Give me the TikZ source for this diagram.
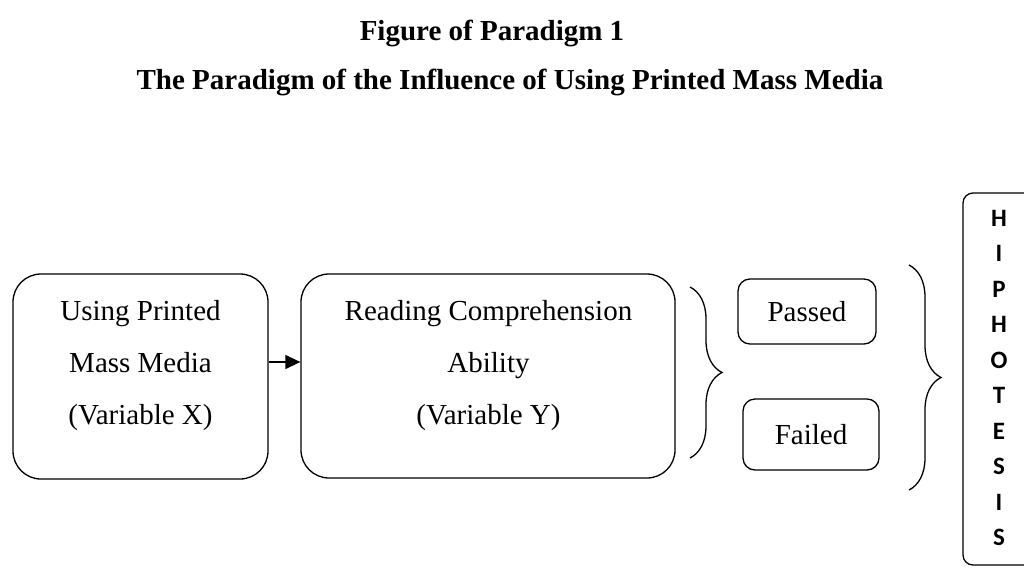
\documentclass[tikz,border=0pt]{standalone}
\usepackage{fontspec}
\setmainfont{Liberation Serif}
\newfontfamily\hypfont{Carlito Bold}
\usetikzlibrary{arrows.meta,decorations.pathreplacing}
\tikzset{
  bigbox/.style={draw, line width=1.3pt, rounded corners=28pt},
  smallbox/.style={draw, line width=1.3pt, rounded corners=12pt, font=\fontsize{29}{34}\selectfont},
  hypbox/.style={draw, line width=1.3pt, rounded corners=10pt},
  boxtext/.style={align=center, font=\fontsize{29}{52}\selectfont},
  titletext/.style={font=\bfseries\fontsize{29}{34}\selectfont},
  bracestyle/.style={decorate, line width=1.3pt, decoration={brace, amplitude=32pt}},
  flow/.style={line width=1.3pt, -{Triangle[length=15pt,width=14pt]}},
}
\begin{document}
\begin{tikzpicture}[x=1pt,y=-1pt]
\useasboundingbox (0,0) rectangle (1024,570);
% titles
\node[titletext] (title1) at (492,33) {Figure of Paradigm 1};
\node[titletext] (title2) at (510,82) {The Paradigm of the Influence of Using Printed Mass Media};
% main boxes
\node[bigbox, minimum width=255pt, minimum height=205pt] (b1) at (140.5,376.5) {};
\node[boxtext] (t1) at (140.5,366) {Using Printed\\Mass Media\\(Variable X)};
\node[bigbox, minimum width=374pt, minimum height=204pt] (b2) at (488,376) {};
\node[boxtext] (t2) at (488.5,366) {Reading Comprehension\\Ability\\(Variable Y)};
\draw[flow] (b1.east |- 0,362) -- (b2.west |- 0,362);
% first brace
\coordinate (br1a) at (690,287);
\coordinate (br1b) at (690,458);
\draw[bracestyle] (br1a) -- (br1b);
% result boxes
\node[smallbox, minimum width=138pt, minimum height=65pt] (pass) at (807,311.5) {Passed};
\node[smallbox, minimum width=136pt, minimum height=71pt] (fail) at (811,434.5) {Failed};
% second brace
\coordinate (br2a) at (909,265);
\coordinate (br2b) at (909,490);
\draw[bracestyle] (br2a) -- (br2b);
% hypothesis box
\node[hypbox, minimum width=80pt, minimum height=372pt] (hyp) at (1003,379) {};
\node[align=center, font=\hypfont\fontsize{25}{35.5}\selectfont] (hyptext) at (999,378) {H\\I\\P\\H\\O\\T\\E\\S\\I\\S};
\end{tikzpicture}
\end{document}
